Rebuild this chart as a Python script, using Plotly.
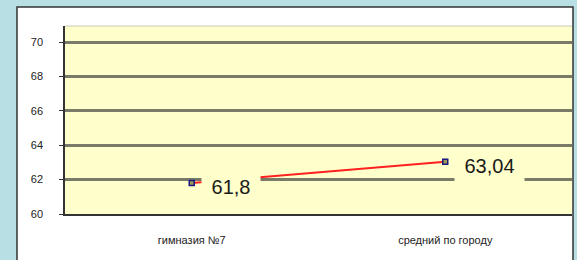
import plotly.graph_objects as go

categories = ["гимназия №7", "средний по городу"]
values = [61.8, 63.04]
value_labels = ["61,8", "63,04"]
y_ticks = [60, 62, 64, 66, 68, 70]

W, H = 577, 260
L, R, T, B = 65, 5, 26, 46
pw, ph = W - L - R, H - T - B

def px_x(p):
    return (p - L) / pw

def px_y(p):
    return (H - B - p) / ph

fig = go.Figure()
fig.add_trace(go.Scatter(
    x=categories, y=values, mode="lines+markers",
    line=dict(color="#ff2020", width=2),
    marker=dict(symbol="square", size=5, color="#9a9a50",
                line=dict(color="#1a1a80", width=1.5)),
    hoverinfo="skip", showlegend=False,
))

for c, v, t in zip(categories, values, value_labels):
    fig.add_annotation(
        x=c, y=v, text=t, showarrow=False, xanchor="left", yanchor="middle",
        xshift=9, yshift=-4, bgcolor="#ffffcc", borderpad=2,
        width=11 * len(t) + 10, height=30,
        font=dict(family="Arial, Liberation Sans", size=20, color="#1a1a1a"),
    )

# outer white frame
fig.add_shape(type="rect", xref="paper", yref="paper",
              x0=px_x(17), x1=px_x(573), y0=px_y(275), y1=px_y(7),
              fillcolor="white", line=dict(color="#333333", width=1.5),
              layer="below")
# plot area
fig.add_shape(type="rect", xref="paper", yref="paper",
              x0=0, x1=1, y0=0, y1=1,
              fillcolor="#ffffcc", line=dict(width=0),
              layer="below")
fig.add_shape(type="line", xref="paper", yref="paper",
              x0=0, x1=1, y0=1, y1=1,
              line=dict(color="#c8c8b8", width=1), layer="below")

fig.update_layout(
    width=W, height=H,
    margin=dict(l=L, r=R, t=T, b=B),
    paper_bgcolor="#b8dfe3",
    plot_bgcolor="rgba(0,0,0,0)",
    font=dict(family="Arial, Liberation Sans", size=11, color="#222222"),
    xaxis=dict(
        type="category", range=[-0.5, 1.5], showgrid=False, zeroline=False,
        showline=True, linecolor="#333333", linewidth=1.5,
        ticks="", ticklabelstandoff=15,
        tickfont=dict(size=11, color="#222222"),
        fixedrange=True,
    ),
    yaxis=dict(
        range=[60, 70.93], tickvals=y_ticks, ticktext=[str(v) for v in y_ticks],
        showgrid=True, gridcolor="#7a7a68", gridwidth=2.5, zeroline=False,
        showline=True, linecolor="#333333", linewidth=1.5,
        ticks="outside", ticklen=4, tickcolor="#333333",
        ticklabelstandoff=14,
        tickfont=dict(size=11, color="#222222"),
        fixedrange=True,
    ),
)

fig.write_html("out.html", config={"displayModeBar": False},
               post_script="document.body.style.margin='0';")
